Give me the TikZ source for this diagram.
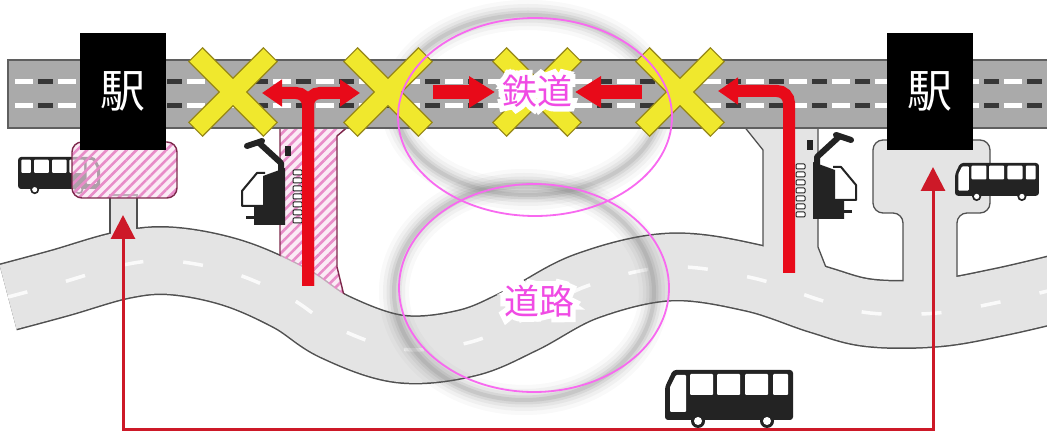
\documentclass[tikz,border=0pt]{standalone}
\usepackage{fontspec}
\newfontfamily\cjk{Noto Sans CJK JP}
\newfontfamily\cjkhalo[FakeBold=30]{Noto Sans CJK JP}
\usetikzlibrary{arrows.meta,patterns.meta,shapes.geometric}

\definecolor{railgray}{RGB}{170,170,170}
\definecolor{railedge}{RGB}{95,95,95}
\definecolor{raildark}{RGB}{55,55,55}
\definecolor{roadfill}{RGB}{228,228,228}
\definecolor{roadedge}{RGB}{80,80,80}
\definecolor{sigred}{RGB}{232,10,25}
\definecolor{linkred}{RGB}{205,25,40}
\definecolor{crossyel}{RGB}{240,232,45}
\definecolor{crossedge}{RGB}{150,135,25}
\definecolor{hatchpink}{RGB}{232,140,200}
\definecolor{hatchbg}{RGB}{250,225,240}
\definecolor{hatchedge}{RGB}{125,40,75}
\definecolor{ringpink}{RGB}{248,105,240}
\definecolor{labelpink}{RGB}{240,75,228}
\definecolor{busdark}{RGB}{35,35,35}

\tikzset{
  stationbox/.style={fill=black, minimum width=86pt, minimum height=117pt,
    inner sep=0pt, text=white, font=\cjk\fontsize{45}{45}\selectfont},
  zonelabel/.style={text=labelpink, inner sep=0pt, font=\cjk\fontsize{35}{35}\selectfont},
  zonehalo/.style={text=white, inner sep=0pt, font=\cjkhalo\fontsize{35}{35}\selectfont},
  zonering/.style={ellipse, draw=ringpink, line width=1.8pt, inner sep=0pt},
  hatched/.style={draw=hatchedge, line width=1.4pt,
    preaction={fill=hatchbg, fill opacity=0.65},
    pattern={Lines[angle=45,distance=7pt,line width=2.6pt]}, pattern color=hatchpink},
  plainpier/.style={draw=roadedge, line width=1.3pt, fill=roadfill},
  bigred/.style={draw=sigred, line width=12pt, -{Triangle[length=20pt,width=26pt]}},
  midred/.style={draw=sigred, line width=14pt, -{Triangle[length=26pt,width=30pt]}},
  linkline/.style={draw=linkred, line width=3pt,
    {Triangle[length=24pt,width=24pt]}-{Triangle[length=24pt,width=24pt]}},
  % bus seen from the side, nose on the left, 128 x 58 units
  bus/.pic={
    \fill[busdark, rounded corners=3pt] (0,17) -- (8,0) -- (128,0) -- (128,50) -- (0,50) -- cycle;
    \fill[white, rounded corners=1pt] (5,42) -- (5,17) -- (11,5) -- (21,5) -- (21,42) -- cycle;
    \foreach \a/\b in {25/48,52/75,80/103,108/123}
      \fill[white, rounded corners=1pt] (\a,4) rectangle (\b,25);
    \foreach \w in {33,102} {
      \fill[busdark] (\w,51) circle[radius=7pt];
      \fill[white] (\w,51) circle[radius=4pt];
    }
  },
  % maintenance rig with its ladder, drawn at the left pier
  rig/.pic={
    \draw[busdark, line width=6pt, line cap=round] (247,146) -- (262,141);
    \draw[busdark, line width=6pt, line join=round] (257,141) -- (281,163) -- (281,212);
    \fill[busdark] (285,146) rectangle (291,156);
    \fill[busdark] (263,176) -- (285,168) -- (285,225) -- (254,225) -- (254,207) -- (263,207) -- cycle;
    \draw[busdark, line width=2pt, line join=round] (265,173) -- (257,173) -- (242,191) -- (242,206) -- (264,206);
    \draw[busdark, line width=3pt] (246,218) -- (259,218);
    \foreach \k in {0,...,6}
      \filldraw[fill=white, draw=busdark, line width=1pt, rounded corners=1pt]
        (293,170+8*\k) rectangle (302,175+8*\k);
  },
  % level-crossing style cross mark
  crossing/.pic={
    \foreach \r in {45,-45}
      \draw[crossedge, line width=2.6pt, rotate=\r] (-52,-9) rectangle (52,9);
    \foreach \r in {45,-45}
      \fill[crossyel, rotate=\r] (-52,-9) rectangle (52,9);
  }
}

\begin{document}
\begin{tikzpicture}[x=1pt,y=-1pt]
\useasboundingbox (0,0) rectangle (1047,435);
\fill[white] (0,0) rectangle (1047,435);

% ---- road (outer edge first, branches, then the surface) ----
\path[save path=\roadP] plot[smooth, tension=0.6] coordinates {
  (8,297) (60,283) (123,265) (172,261) (233,273) (290,298) (335,327)
  (400,349) (467,343) (522,320) (587,286) (670,267) (753,278) (820,300)
  (870,313) (937,313) (1000,302) (1060,288)};
\draw[use path=\roadP, roadedge, line width=69pt];

% left station stem
\filldraw[plainpier] (110,195) rectangle (137,250);
% right station plaza with its stem
\filldraw[plainpier, rounded corners=10pt] (873,140) -- (990,140) -- (990,213) -- (957,213)
  -- (957,315) -- (903,315) -- (903,213) -- (873,213) -- cycle;
% piers under the viaduct
\filldraw[hatched] (280,125) -- (350,125) -- (337,136) -- (337,267) -- (350,320) -- (280,290) -- cycle;
\filldraw[plainpier] (743,125) -- (763,150) -- (763,292) -- (832,305) -- (827,270) -- (818,247) -- (818,125) -- cycle;

\draw[use path=\roadP, roadfill, line width=66pt];
\draw[use path=\roadP, white, line width=3.5pt, dash pattern=on 20pt off 40pt, opacity=0.85];

% soft grey rings behind the two zones
\foreach \w/\o in {30/0.04,22/0.06,15/0.08,9/0.11,4/0.14} {
  \draw[black!60, line width=\w pt, opacity=\o] (528,105) ellipse[x radius=132pt, y radius=90pt];
  \draw[black!60, line width=\w pt, opacity=\o] (524,292) ellipse[x radius=130pt, y radius=108pt];
}

% maintenance rigs
\pic (rigL) {rig};
\begin{scope}[shift={(1098,-6)}, xscale=-1, transform shape]
  \pic (rigR) {rig};
\end{scope}

% buses at the stations and the left plaza
\begin{scope}[shift={(100,157)}, xscale=-0.64, yscale=0.64, transform shape]
  \pic (busL) {bus};
\end{scope}
\filldraw[hatched, rounded corners=10pt] (72,142) rectangle (177,198);
\begin{scope}[shift={(955,163)}, scale=0.656, transform shape]
  \pic (busR) {bus};
\end{scope}

% ---- viaduct ----
\filldraw[draw=railedge, line width=1.3pt, fill=railgray] (8,60) rectangle (1060,128);
\foreach \y in {82,106} {
  \draw[white, line width=5pt, dash pattern=on 18pt off 25pt] (15,\y) -- (1060,\y);
  \draw[raildark, line width=5pt, dash pattern=on 15pt off 28pt] (38,\y) -- (1060,\y);
}

% stations
\node[stationbox] (stationL) at (122.5,91.5) {駅};
\node[stationbox] (stationR) at (930,91.5) {駅};

% cross marks on the viaduct
\pic (crossA) at (233,92) {crossing};
\pic (crossB) at (388,92) {crossing};
\pic (crossC) at (537,92) {crossing};
\pic (crossD) at (680,92) {crossing};

% ---- red arrows ----
\coordinate (pierL) at (308,286);
\coordinate (branchW) at (262,93);
\coordinate (branchE) at (360,93);
\draw[bigred, rounded corners=12pt] (pierL) |- (branchW);
\draw[bigred, rounded corners=12pt] (pierL) |- (branchE);

\coordinate (pierR) at (789,273);
\coordinate (turnW) at (718,91);
\draw[bigred, rounded corners=12pt] (pierR) |- (turnW);

\coordinate (runE0) at (433,92);
\coordinate (runE1) at (495,92);
\coordinate (runW0) at (642,92);
\coordinate (runW1) at (575,92);
\draw[midred] (runE0) -- (runE1);
\draw[midred] (runW0) -- (runW1);

% bus link between the two stations
\coordinate (linkL) at (123,215);
\coordinate (linkLB) at (123,430);
\coordinate (linkRB) at (933,430);
\coordinate (linkR) at (933,167);
\draw[linkline] (linkL) -- (linkLB) -- (linkRB) -- (linkR);

\begin{scope}[shift={(665,370)}]
  \pic (busB) {bus};
\end{scope}

% ---- zones ----
\node[zonering, minimum width=274pt, minimum height=198pt] (railRing) at (535,117) {};
\node[zonering, minimum width=270pt, minimum height=208pt] (roadRing) at (534,288) {};
\node[zonehalo] (railHalo) at (537,91) {鉄道};
\node[zonelabel] (railLabel) at (railHalo.center) {鉄道};
\node[zonehalo] (roadHalo) at (539,301) {道路};
\node[zonelabel] (roadLabel) at (roadHalo.center) {道路};
\end{tikzpicture}
\end{document}
